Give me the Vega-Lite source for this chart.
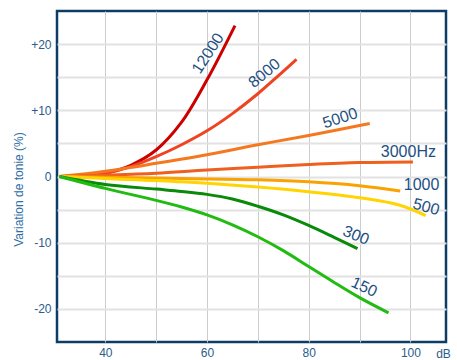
{
  "$schema": "https://vega.github.io/schema/vega-lite/v6.json",
  "width": 389,
  "height": 331,
  "autosize": {"type": "none"},
  "padding": {"left": 57, "top": 11, "right": 11, "bottom": 18},
  "config": {
    "view": {"stroke": "#0d3d66", "strokeWidth": 2.5},
    "font": "Liberation Sans"
  },
  "datasets": {
    "curves": [
      {"freq": "12000", "db": 31, "v": 0},
      {"freq": "12000", "db": 35, "v": 0.1},
      {"freq": "12000", "db": 40, "v": 0.5},
      {"freq": "12000", "db": 45, "v": 1.7},
      {"freq": "12000", "db": 50, "v": 4.0},
      {"freq": "12000", "db": 55, "v": 8.2},
      {"freq": "12000", "db": 60, "v": 14.6},
      {"freq": "12000", "db": 65.5, "v": 22.8},
      {"freq": "8000", "db": 31, "v": 0},
      {"freq": "8000", "db": 40, "v": 0.5},
      {"freq": "8000", "db": 45, "v": 1.5},
      {"freq": "8000", "db": 50, "v": 3.0},
      {"freq": "8000", "db": 55, "v": 4.8},
      {"freq": "8000", "db": 60, "v": 6.9},
      {"freq": "8000", "db": 65, "v": 9.5},
      {"freq": "8000", "db": 70, "v": 12.5},
      {"freq": "8000", "db": 74, "v": 15.2},
      {"freq": "8000", "db": 77.6, "v": 17.7},
      {"freq": "5000", "db": 31, "v": 0},
      {"freq": "5000", "db": 40, "v": 0.8},
      {"freq": "5000", "db": 50, "v": 2.0},
      {"freq": "5000", "db": 60, "v": 3.3},
      {"freq": "5000", "db": 70, "v": 4.8},
      {"freq": "5000", "db": 80, "v": 6.2},
      {"freq": "5000", "db": 92, "v": 8.0},
      {"freq": "3000", "db": 31, "v": 0},
      {"freq": "3000", "db": 40, "v": 0.2},
      {"freq": "3000", "db": 50, "v": 0.5},
      {"freq": "3000", "db": 60, "v": 1.0},
      {"freq": "3000", "db": 70, "v": 1.4},
      {"freq": "3000", "db": 80, "v": 1.8},
      {"freq": "3000", "db": 90, "v": 2.1},
      {"freq": "3000", "db": 100.5, "v": 2.2},
      {"freq": "1000", "db": 31, "v": 0},
      {"freq": "1000", "db": 40, "v": -0.1},
      {"freq": "1000", "db": 55, "v": -0.3},
      {"freq": "1000", "db": 70, "v": -0.5},
      {"freq": "1000", "db": 80, "v": -0.8},
      {"freq": "1000", "db": 90, "v": -1.4},
      {"freq": "1000", "db": 98, "v": -2.2},
      {"freq": "500", "db": 31, "v": 0},
      {"freq": "500", "db": 40, "v": -0.3},
      {"freq": "500", "db": 55, "v": -0.8},
      {"freq": "500", "db": 70, "v": -1.6},
      {"freq": "500", "db": 80, "v": -2.3},
      {"freq": "500", "db": 90, "v": -3.2},
      {"freq": "500", "db": 97.8, "v": -4.3},
      {"freq": "500", "db": 103, "v": -5.9},
      {"freq": "300", "db": 31, "v": 0},
      {"freq": "300", "db": 40, "v": -1.2},
      {"freq": "300", "db": 50, "v": -1.9},
      {"freq": "300", "db": 55, "v": -2.25},
      {"freq": "300", "db": 60, "v": -2.7},
      {"freq": "300", "db": 65, "v": -3.4},
      {"freq": "300", "db": 70, "v": -4.5},
      {"freq": "300", "db": 75, "v": -5.8},
      {"freq": "300", "db": 80, "v": -7.4},
      {"freq": "300", "db": 85, "v": -9.2},
      {"freq": "300", "db": 89.6, "v": -10.9},
      {"freq": "150", "db": 31, "v": 0},
      {"freq": "150", "db": 40, "v": -1.8},
      {"freq": "150", "db": 50, "v": -3.6},
      {"freq": "150", "db": 55, "v": -4.6},
      {"freq": "150", "db": 60, "v": -5.8},
      {"freq": "150", "db": 65, "v": -7.3},
      {"freq": "150", "db": 70, "v": -9.1},
      {"freq": "150", "db": 75, "v": -11.2},
      {"freq": "150", "db": 80, "v": -13.6},
      {"freq": "150", "db": 85, "v": -16.0},
      {"freq": "150", "db": 90, "v": -18.3},
      {"freq": "150", "db": 95.7, "v": -20.6}
    ],
    "labels": [
      {"label": "12000", "db": 60.2, "v": 18.6},
      {"label": "8000", "db": 71.3, "v": 15.6},
      {"label": "5000", "db": 86.2, "v": 8.8},
      {"label": "3000Hz", "db": 99.6, "v": 3.7},
      {"label": "1000", "db": 102.2, "v": -1.3},
      {"label": "500", "db": 103.1, "v": -4.6},
      {"label": "300", "db": 89.3, "v": -8.9},
      {"label": "150", "db": 90.9, "v": -16.7}
    ]
  },
  "layer": [
    {
      "data": {"name": "curves"},
      "mark": {"type": "line", "interpolate": "catmull-rom", "strokeWidth": 3},
      "encoding": {
        "x": {
          "field": "db", "type": "quantitative",
          "scale": {"domain": [30.5, 107], "nice": false, "zero": false},
          "axis": {
            "values": [40, 50, 60, 70, 80, 90, 100],
            "labelExpr": "datum.value % 20 == 0 ? '' + datum.value : ''",
            "domain": false, "ticks": false, "tickSize": 0,
            "labelPadding": 5, "labelFontSize": 12, "labelColor": "#2c5c8c",
            "labelFont": "Liberation Sans",
            "gridColor": "#cccccc", "gridWidth": 1,
            "title": "dB", "titleFontSize": 12, "titleFontWeight": "normal",
            "titleColor": "#2c5c8c", "titleFont": "Liberation Sans",
            "titleX": 386, "titleY": 11.5, "titleAlign": "center", "titleBaseline": "middle"
          }
        },
        "y": {
          "field": "v", "type": "quantitative",
          "scale": {"domain": [-25, 25], "nice": false},
          "axis": {
            "values": [-20, -15, -10, -5, 0, 5, 10, 15, 20],
            "labelExpr": "datum.value % 10 == 0 ? (datum.value > 0 ? '+' + datum.value : '' + datum.value) : ''",
            "domain": false, "ticks": false, "tickSize": 0,
            "labelPadding": 6, "labelFontSize": 12, "labelColor": "#2c5c8c",
            "labelFont": "Liberation Sans",
            "gridColor": "#e2e2e2", "gridWidth": 2,
            "title": "Variation de tonie (%)", "titleFontSize": 12, "titleFontWeight": "normal",
            "titleColor": "#2e6da4", "titleFont": "Liberation Sans",
            "titleX": -39, "titleY": 178, "titleAngle": -90, "titleAlign": "center", "titleBaseline": "middle"
          }
        },
        "color": {
          "field": "freq", "type": "nominal", "legend": null,
          "scale": {
            "domain": ["12000", "8000", "5000", "3000", "1000", "500", "300", "150"],
            "range": ["#cc0000", "#ee4422", "#f5781f", "#ef5f1f", "#f9a200", "#ffd400", "#0a8a0a", "#22bb11"]
          }
        },
        "detail": {"field": "freq"}
      }
    },
    {
      "data": {"name": "labels"},
      "transform": [{"filter": "datum.label == '12000'"}],
      "mark": {"type": "text", "angle": -57, "fontSize": 16, "color": "#1d4f82", "font": "Liberation Sans"},
      "encoding": {"x": {"field": "db", "type": "quantitative"}, "y": {"field": "v", "type": "quantitative"}, "text": {"field": "label"}}
    },
    {
      "data": {"name": "labels"},
      "transform": [{"filter": "datum.label == '8000'"}],
      "mark": {"type": "text", "angle": -40, "fontSize": 16, "color": "#1d4f82", "font": "Liberation Sans"},
      "encoding": {"x": {"field": "db", "type": "quantitative"}, "y": {"field": "v", "type": "quantitative"}, "text": {"field": "label"}}
    },
    {
      "data": {"name": "labels"},
      "transform": [{"filter": "datum.label == '5000'"}],
      "mark": {"type": "text", "angle": -18, "fontSize": 16, "color": "#1d4f82", "font": "Liberation Sans"},
      "encoding": {"x": {"field": "db", "type": "quantitative"}, "y": {"field": "v", "type": "quantitative"}, "text": {"field": "label"}}
    },
    {
      "data": {"name": "labels"},
      "transform": [{"filter": "datum.label == '3000Hz' || datum.label == '1000'"}],
      "mark": {"type": "text", "angle": 0, "fontSize": 16, "color": "#1d4f82", "font": "Liberation Sans"},
      "encoding": {"x": {"field": "db", "type": "quantitative"}, "y": {"field": "v", "type": "quantitative"}, "text": {"field": "label"}}
    },
    {
      "data": {"name": "labels"},
      "transform": [{"filter": "datum.label == '500'"}],
      "mark": {"type": "text", "angle": 15, "fontSize": 16, "color": "#1d4f82", "font": "Liberation Sans"},
      "encoding": {"x": {"field": "db", "type": "quantitative"}, "y": {"field": "v", "type": "quantitative"}, "text": {"field": "label"}}
    },
    {
      "data": {"name": "labels"},
      "transform": [{"filter": "datum.label == '300'"}],
      "mark": {"type": "text", "angle": 22, "fontSize": 16, "color": "#1d4f82", "font": "Liberation Sans"},
      "encoding": {"x": {"field": "db", "type": "quantitative"}, "y": {"field": "v", "type": "quantitative"}, "text": {"field": "label"}}
    },
    {
      "data": {"name": "labels"},
      "transform": [{"filter": "datum.label == '150'"}],
      "mark": {"type": "text", "angle": 25, "fontSize": 16, "color": "#1d4f82", "font": "Liberation Sans"},
      "encoding": {"x": {"field": "db", "type": "quantitative"}, "y": {"field": "v", "type": "quantitative"}, "text": {"field": "label"}}
    }
  ]
}
